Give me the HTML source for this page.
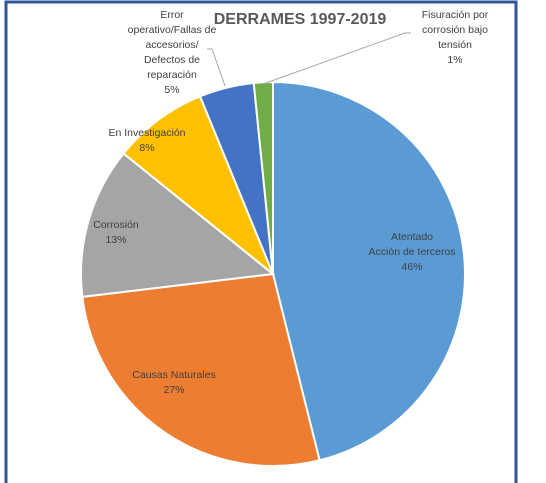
<!DOCTYPE html>
<html><head><meta charset="utf-8"><style>
body{margin:0;background:#fff;width:546px;height:483px;overflow:hidden}
svg{display:block}
text{font-family:"Liberation Sans",sans-serif;fill:#404040;font-size:10.5px}
</style></head><body>
<svg width="546" height="483">
<rect x="6" y="2" width="510" height="490" fill="none" stroke="#2F5597" stroke-width="3"/>
<text x="300" y="24" text-anchor="middle" style="font-size:16px;font-weight:bold;fill:#595959">DERRAMES 1997-2019</text>
<g id="slices"></g>
<polyline points="225,86 212,49 207,49" fill="none" stroke="#A6A6A6"/>
<polyline points="263,84 405,33 411,33" fill="none" stroke="#A6A6A6"/>
<g id="labels"></g>
</svg>
<script>
const categories=["Atentado|Acción de terceros","Causas Naturales","Corrosión","En Investigación","Error|operativo/Fallas de|accesorios/|Defectos de|reparación","Fisuración por|corrosión bajo|tensión"];
const values=[46.1,27.0,12.7,8.0,4.6,1.6];
const percentLabels=["46%","27%","13%","8%","5%","1%"];
const colors=["#5B9BD5","#ED7D31","#A5A5A5","#FFC000","#4472C4","#70AD47"];
const labelPos=[[412,240],[174,378],[116,228],[147,136],[172,18],[455,18]];
const names=["atentado","causas-naturales","corrosion","en-investigacion","error-operativo","fisuracion"];
const cx=273,cy=274,r=192,ns="http://www.w3.org/2000/svg";
const total=values.reduce((a,b)=>a+b,0);
const g=document.getElementById("slices"),lg=document.getElementById("labels");
let acc=0;
function pt(f){const a=f*2*Math.PI;return [cx+r*Math.sin(a),cy-r*Math.cos(a)];}
values.forEach((v,i)=>{
 const f0=acc/total,f1=(acc+v)/total;acc+=v;
 const p0=pt(f0),p1=pt(f1),large=(f1-f0)>0.5?1:0;
 const p=document.createElementNS(ns,"path");
 p.setAttribute("d",`M${cx},${cy}L${p0[0]},${p0[1]}A${r},${r} 0 ${large} 1 ${p1[0]},${p1[1]}Z`);
 p.setAttribute("fill",colors[i]);p.setAttribute("stroke","#fff");p.setAttribute("stroke-width","2");
 
 
 g.appendChild(p);
 const lines=categories[i].split("|").concat([percentLabels[i]]);
 const t=document.createElementNS(ns,"text");
 t.setAttribute("text-anchor","middle");
 
 
 lines.forEach((s,k)=>{const ts=document.createElementNS(ns,"tspan");ts.setAttribute("x",labelPos[i][0]);ts.setAttribute("y",labelPos[i][1]+k*15);ts.textContent=s;t.appendChild(ts);});
 lg.appendChild(t);
});
</script>
</body></html>
